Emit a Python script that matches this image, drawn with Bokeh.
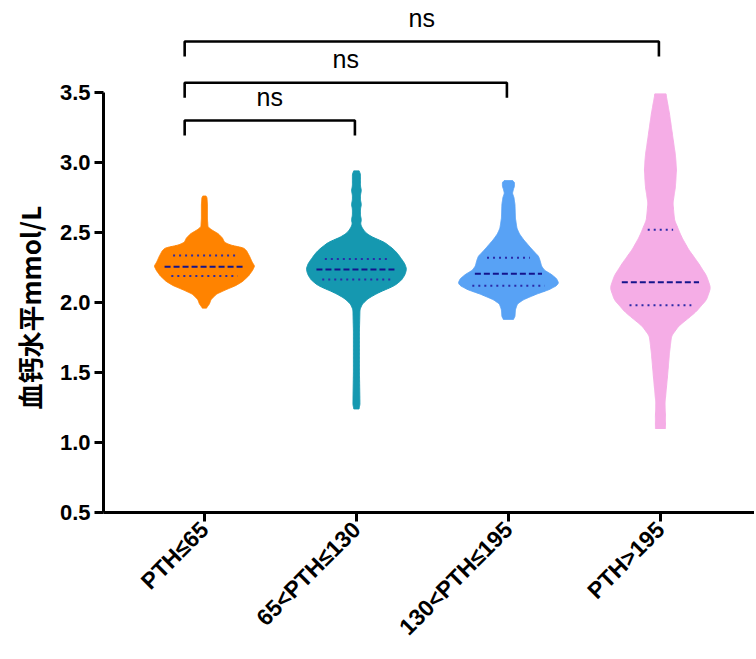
import numpy as np
from bokeh.plotting import figure
from bokeh.models import Range1d, FixedTicker, Title, NumeralTickFormatter
from bokeh.embed import file_html
from bokeh.resources import INLINE
from bokeh.core.properties import value

# ---------------- data ----------------
categories = ["PTH≤65", "65<PTH≤130", "130<PTH≤195", "PTH>195"]
colors = ["#FF8300", "#1598B0", "#58A2F5", "#F5ADE6"]

# violin density profiles: level (mmol/L) and relative density (0..1)
orange_y = [1.96, 1.99, 2.02, 2.06, 2.09, 2.12, 2.15, 2.19, 2.23, 2.26, 2.29, 2.33, 2.37, 2.39,
            2.41, 2.43, 2.46, 2.49, 2.52, 2.54, 2.60, 2.70, 2.75, 2.76]
orange_d = [0.04, 0.10, 0.13, 0.24, 0.42, 0.62, 0.76, 0.88, 0.96, 1.00, 0.95, 0.90, 0.84, 0.78,
            0.52, 0.40, 0.36, 0.28, 0.14, 0.07, 0.06, 0.06, 0.05, 0.03]

teal_y = [1.24, 1.27, 1.50, 1.80, 1.95, 1.99, 2.03, 2.07, 2.12, 2.16, 2.20, 2.24, 2.28, 2.31,
          2.35, 2.38, 2.43, 2.47, 2.50, 2.53, 2.56, 2.59, 2.62, 2.67, 2.70, 2.73, 2.77, 2.80,
          2.83, 2.88, 2.92, 2.94]
teal_d = [0.05, 0.07, 0.06, 0.06, 0.07, 0.12, 0.24, 0.44, 0.76, 0.90, 0.97, 1.00, 0.96, 0.90,
          0.82, 0.74, 0.56, 0.30, 0.18, 0.12, 0.08, 0.10, 0.08, 0.08, 0.10, 0.08, 0.08, 0.10,
          0.08, 0.08, 0.08, 0.05]

blue_y = [1.88, 1.90, 1.95, 1.99, 2.02, 2.06, 2.09, 2.12, 2.14, 2.17, 2.20, 2.23, 2.26, 2.30,
          2.33, 2.36, 2.40, 2.45, 2.49, 2.53, 2.60, 2.70, 2.75, 2.78, 2.81, 2.83, 2.86, 2.87]
blue_d = [0.10, 0.13, 0.14, 0.18, 0.30, 0.56, 0.80, 0.96, 1.00, 0.96, 0.86, 0.72, 0.66, 0.63,
          0.60, 0.52, 0.42, 0.30, 0.22, 0.17, 0.14, 0.13, 0.11, 0.08, 0.10, 0.12, 0.12, 0.08]

pink_y = [1.10, 1.19, 1.28, 1.47, 1.64, 1.76, 1.83, 1.93, 2.02, 2.105, 2.19, 2.28, 2.38, 2.47,
          2.59, 2.71, 2.83, 2.95, 3.05, 3.15, 3.25, 3.35, 3.45, 3.49]
pink_d = [0.10, 0.10, 0.09, 0.14, 0.18, 0.22, 0.36, 0.70, 0.92, 1.00, 0.92, 0.76, 0.56, 0.42,
          0.28, 0.25, 0.30, 0.32, 0.30, 0.26, 0.22, 0.18, 0.13, 0.11]

profiles_y = [orange_y, teal_y, blue_y, pink_y]
profiles_d = [orange_d, teal_d, blue_d, pink_d]

medians = [2.255, 2.235, 2.205, 2.145]
q1 = [2.19, 2.165, 2.12, 1.98]
q3 = [2.335, 2.31, 2.32, 2.52]

y_ticks = [0.5, 1.0, 1.5, 2.0, 2.5, 3.0, 3.5]

comparisons = [(0, 1, "ns"), (0, 2, "ns"), (0, 3, "ns")]

y_title = "血钙水平mmol/L"

# ---------------- figure ----------------
X0 = -0.664
p = figure(width=754, height=657, output_backend="svg", toolbar_location=None,
           x_range=Range1d(X0, X0 + 651 / 152), y_range=Range1d(0.5, 0.5 + 505 / 140),
           min_border_left=103, min_border_right=0, min_border_top=7, min_border_bottom=145)
p.outline_line_color = None
p.xgrid.visible = False
p.ygrid.visible = False
p.background_fill_color = "white"

HALF = 0.33  # half-width of violin at max density (x units)

for i, (ys, ds) in enumerate(zip(profiles_y, profiles_d)):
    ys = np.array(ys)
    ds = np.array(ds)
    grid = np.linspace(ys[0], ys[-1], 300)
    dd = np.interp(grid, ys, ds)
    k = 5
    pad = np.pad(dd, (k // 2, k // 2), mode="edge")
    dd = np.convolve(pad, np.ones(k) / k, mode="valid")
    xs = np.concatenate([i + HALF * dd, (i - HALF * dd)[::-1]])
    yy = np.concatenate([grid, grid[::-1]])
    p.patch(xs, yy, fill_color=colors[i], line_color=colors[i], line_width=1)

    def hw(level):
        return HALF * float(np.interp(level, ys, ds))

    for lvl, dash, col, frac in [(medians[i], "6 3", "#14148C", 0.8),
                                 (q1[i], "2 4", "#2B2BA8", 0.75),
                                 (q3[i], "2 4", "#2B2BA8", 0.7)]:
        w = hw(lvl) * frac
        p.segment(x0=[i - w], y0=[lvl], x1=[i + w], y1=[lvl],
                  line_color=col, line_width=2, line_dash=dash)

# significance brackets
levels = [3.30, 3.57, 3.864]
leg = 15 / 140
for (a, b, txt), lv in zip(comparisons, levels):
    xl = a - 0.13
    xr = b - 0.01
    p.line([xl, xl, xr, xr], [lv - leg, lv, lv, lv - leg], line_color="black", line_width=2.6)
    p.text(x=[(xl + xr) / 2], y=[lv + 0.07], text=[txt], text_align="center",
           text_baseline="bottom", text_font=value("Liberation Sans"),
           text_font_size="25px", text_color="black")

# axes
xa = p.xaxis[0]
xa.ticker = FixedTicker(ticks=list(range(len(categories))))
xa.major_label_overrides = {i: c for i, c in enumerate(categories)}
xa.major_label_orientation = np.pi / 4
ya = p.yaxis[0]
ya.ticker = FixedTicker(ticks=y_ticks)
ya.formatter = NumeralTickFormatter(format="0.0")
ya.bounds = (y_ticks[0], y_ticks[-1])
for ax in (xa, ya):
    ax.axis_line_width = 3
    ax.major_tick_line_width = 3
    ax.major_tick_out = 9
    ax.major_tick_in = 0
    ax.minor_tick_out = 0
    ax.minor_tick_in = 0
    ax.major_label_text_font = "Liberation Sans"
    ax.major_label_text_font_style = "bold"
    ax.major_label_text_color = "black"
    ax.axis_line_color = "black"
    ax.major_tick_line_color = "black"
ya.major_label_text_font_size = "22px"
xa.major_label_text_font_size = "23px"
ya.major_label_standoff = 4
xa.major_label_standoff = 4

p.add_layout(Title(text=y_title, align="left", offset=103, standoff=17,
                   text_font="Noto Sans CJK SC", text_font_style="bold",
                   text_line_height=1.0,
                   text_font_size="26px", text_color="black"), "left")

open("out.html", "w").write(file_html(p, INLINE))
